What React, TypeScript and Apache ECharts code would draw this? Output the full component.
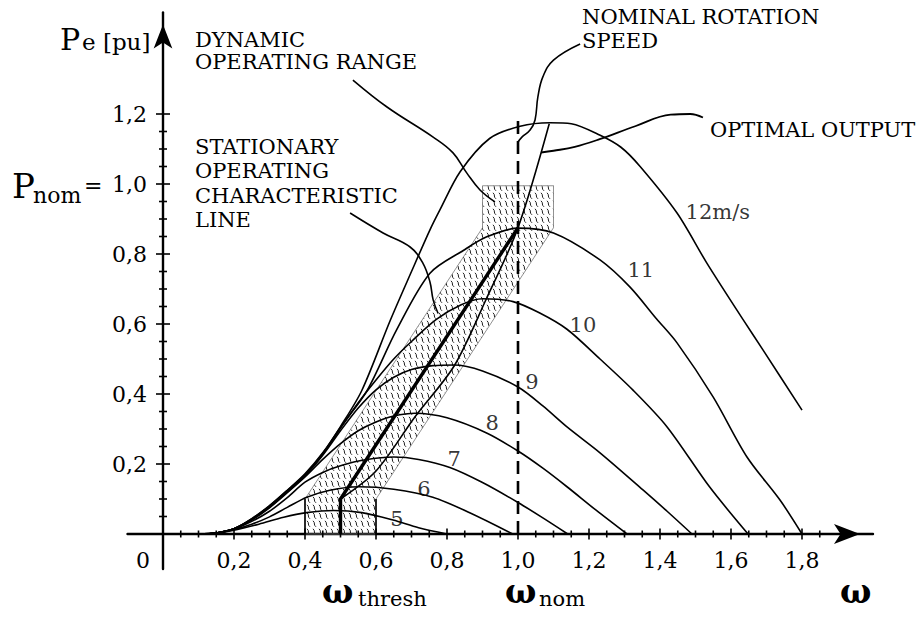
import React, { useEffect, useRef } from 'react';
import * as echarts from 'echarts';

const FONT = '"DejaVu Serif", "Liberation Serif", serif';

// axis tick labels
const xTickLabels = [0.2, 0.4, 0.6, 0.8, 1.0, 1.2, 1.4, 1.6, 1.8];
const yTickLabels = [0.2, 0.4, 0.6, 0.8, 1.0, 1.2];

// power curves P(omega) for each wind speed
const curve5 = [[0.1, 0], [0.15, 0.003], [0.2, 0.011], [0.27, 0.028], [0.34, 0.048], [0.405, 0.061], [0.48, 0.067], [0.56, 0.061], [0.648, 0.04], [0.72, 0.018], [0.8, 0]];
const curve6 = [[0.1, 0], [0.15, 0.003], [0.2, 0.013], [0.25, 0.028], [0.3, 0.049], [0.35, 0.076], [0.405, 0.105], [0.47, 0.125], [0.55, 0.135], [0.65, 0.128], [0.76, 0.105], [0.87, 0.058], [0.985, 0]];
const curve7 = [[0.1, 0], [0.15, 0.003], [0.2, 0.014], [0.25, 0.036], [0.3, 0.065], [0.35, 0.104], [0.4, 0.148], [0.45, 0.176], [0.5, 0.195], [0.57, 0.212], [0.65, 0.22], [0.72, 0.213], [0.808, 0.19], [0.9, 0.147], [1.0, 0.09], [1.07, 0.046], [1.14, 0]];
const curve8 = [[0.1, 0], [0.15, 0.003], [0.2, 0.015], [0.25, 0.04], [0.3, 0.075], [0.35, 0.118], [0.4, 0.163], [0.45, 0.213], [0.5, 0.258], [0.55, 0.295], [0.6, 0.32], [0.65, 0.337], [0.71, 0.345], [0.8, 0.332], [0.913, 0.288], [1.0, 0.237], [1.07, 0.188], [1.138, 0.135], [1.22, 0.068], [1.307, 0]];
const curve9 = [[0.1, 0], [0.15, 0.003], [0.2, 0.015], [0.25, 0.041], [0.3, 0.077], [0.35, 0.12], [0.4, 0.166], [0.45, 0.225], [0.5, 0.295], [0.55, 0.36], [0.6, 0.412], [0.65, 0.448], [0.7, 0.47], [0.76, 0.481], [0.82, 0.483], [0.9, 0.466], [1.0, 0.42], [1.07, 0.366], [1.138, 0.306], [1.231, 0.232], [1.352, 0.126], [1.42, 0.065], [1.49, 0]];
const curve10 = [[0.1, 0], [0.15, 0.003], [0.2, 0.015], [0.25, 0.042], [0.3, 0.079], [0.35, 0.122], [0.4, 0.168], [0.45, 0.228], [0.5, 0.302], [0.55, 0.375], [0.6, 0.44], [0.65, 0.5], [0.7, 0.55], [0.77, 0.613], [0.84, 0.655], [0.9, 0.672], [0.986, 0.664], [1.06, 0.632], [1.138, 0.585], [1.231, 0.5], [1.324, 0.411], [1.42, 0.306], [1.54, 0.134], [1.648, 0]];
const curve11 = [[0.1, 0], [0.15, 0.003], [0.2, 0.015], [0.25, 0.043], [0.3, 0.08], [0.35, 0.124], [0.4, 0.17], [0.45, 0.23], [0.5, 0.305], [0.575, 0.41], [0.658, 0.583], [0.752, 0.745], [0.846, 0.81], [0.912, 0.849], [1.0, 0.874], [1.1, 0.86], [1.231, 0.783], [1.315, 0.706], [1.39, 0.615], [1.448, 0.546], [1.55, 0.391], [1.645, 0.22], [1.738, 0.097], [1.8, 0]];
const curve12 = [[0.1, 0], [0.15, 0.003], [0.2, 0.015], [0.25, 0.044], [0.3, 0.081], [0.35, 0.125], [0.4, 0.172], [0.45, 0.232], [0.5, 0.307], [0.56, 0.41], [0.64, 0.61], [0.7, 0.75], [0.752, 0.869], [0.78, 0.926], [0.837, 1.035], [0.92, 1.13], [1.006, 1.165], [1.09, 1.175], [1.15, 1.172], [1.23, 1.14], [1.29, 1.105], [1.344, 1.05], [1.448, 0.917], [1.532, 0.774], [1.635, 0.611], [1.69, 0.526], [1.8, 0.354]];
const powerCurves = [curve5, curve6, curve7, curve8, curve9, curve10, curve11, curve12];

// curve labels (wind speed) and where they sit
const curveLabels = [
  { name: '12m/s', value: [1.563, 0.92] },
  { name: '11', value: [1.346, 0.754] },
  { name: '10', value: [1.183, 0.597] },
  { name: '9', value: [1.039, 0.434] },
  { name: '8', value: [0.927, 0.317] },
  { name: '7', value: [0.82, 0.214] },
  { name: '6', value: [0.735, 0.129] },
  { name: '5', value: [0.659, 0.043] },
];

// dynamic operating range (hatched region)
const dynamicRange = [[0.4, 0], [0.6, 0], [0.6, 0.1], [1.1, 0.875], [1.1, 0.995], [0.9, 0.995], [0.9, 0.875], [0.4, 0.1]];
const rangeEdgeLeft = [[0.4, 0], [0.4, 0.1]];
const rangeEdgeRight = [[0.6, 0], [0.6, 0.1]];

// stationary operating characteristic line
const characteristicLine = [[0.5, 0], [0.5, 0.1], [1.0, 0.875]];
// optimal output line (through the curve maxima)
const optimalLine = [[0.5, 0.1], [0.6, 0.18], [0.71, 0.335], [0.82, 0.48], [0.91, 0.67], [1.0, 0.875], [1.088, 1.172]];
// nominal rotation speed
const nominalSpeed = [[1.0, 0], [1.0, 1.2]];

// annotation leader lines
const nominalLeader = [[1.175, 1.4], [1.1, 1.354], [1.07, 1.306], [1.056, 1.249], [1.048, 1.183], [1.034, 1.154], [1.011, 1.134], [1.0, 1.12]];
const optimalLeader = [[1.521, 1.19], [1.485, 1.2], [1.43, 1.198], [1.33, 1.165], [1.23, 1.128], [1.16, 1.106], [1.1, 1.095], [1.065, 1.09]];
const dynamicLeader = [[0.535, 1.297], [0.631, 1.22], [0.761, 1.134], [0.817, 1.089], [0.856, 1.031], [0.893, 0.983], [0.935, 0.949]];
const stationaryLeader = [[0.527, 0.917], [0.62, 0.86], [0.696, 0.82], [0.732, 0.774], [0.752, 0.72], [0.761, 0.669], [0.775, 0.63]];

function fmt(v: number) {
  return v.toFixed(1).replace('.', ',');
}

function makeHatch() {
  const c = document.createElement('canvas');
  c.width = 6;
  c.height = 8;
  const ctx = c.getContext('2d')!;
  ctx.strokeStyle = '#222';
  ctx.lineWidth = 1.0;
  ctx.beginPath();
  ctx.moveTo(1.0, 0.8);
  ctx.quadraticCurveTo(2.8, 2.6, 2.4, 4.0);
  ctx.quadraticCurveTo(2.2, 5.4, 4.0, 6.8);
  ctx.stroke();
  return c;
}

export default function App() {
  const ref = useRef<HTMLDivElement>(null);

  useEffect(() => {
    if (!ref.current) return;
    const chart = echarts.init(ref.current, null, { renderer: 'svg' });
    const hatch = makeHatch();

    const xMinor: number[] = [];
    for (let i = 1; i <= 37; i++) if (i % 4 !== 0) xMinor.push(i * 0.05);
    const yMinor: number[] = [];
    for (let i = 1; i <= 23; i++) if (i % 4 !== 0) yMinor.push(i * 0.05);

    const tickSeries = (axis: 'x' | 'y', values: number[], half: number) => ({
      type: 'custom',
      coordinateSystem: 'cartesian2d',
      silent: true,
      z: 6,
      data: values.map((v) => (axis === 'x' ? [v, 0] : [0, v])),
      renderItem: (_p: any, api: any) => {
        const p = api.coord([api.value(0), api.value(1)]);
        return {
          type: 'line',
          shape: axis === 'x'
            ? { x1: p[0], y1: p[1] - half, x2: p[0], y2: p[1] + half }
            : { x1: p[0] - half, y1: p[1], x2: p[0] + half, y2: p[1] },
          style: { stroke: '#000', lineWidth: 1.6 },
        };
      },
    });

    const plainLine = (data: number[][], width: number, smooth: number | boolean, z = 4, type: any = 'solid') => ({
      type: 'line',
      data,
      showSymbol: false,
      symbol: 'none',
      smooth,
      silent: true,
      z,
      lineStyle: { color: '#000', width, type },
    });

    const text = (t: string, x: number, y: number, size: number, extra: any = {}) => ({
      type: 'text',
      x,
      y,
      silent: true,
      style: {
        text: t,
        fontFamily: FONT,
        fontSize: size,
        fill: '#000',
        align: 'left',
        verticalAlign: 'middle',
        ...extra,
      },
    });

    const option: any = {
      animation: false,
      backgroundColor: '#fff',
      grid: { left: 127.5, right: 49, top: 12.5, bottom: 50, outerBoundsMode: 'none' },
      xAxis: {
        type: 'value',
        min: -0.1,
        max: 2.0,
        splitLine: { show: false },
        axisLine: {
          onZero: true,
          symbol: ['none', 'arrow'],
          symbolSize: [15, 26],
          symbolOffset: [0, -13],
          lineStyle: { color: '#000', width: 2.4 },
        },
        axisTick: { show: false },
        axisLabel: {
          customValues: xTickLabels,
          formatter: (v: number) => fmt(v),
          fontFamily: FONT,
          fontSize: 22,
          color: '#000',
          margin: -20,
        },
      },
      yAxis: {
        type: 'value',
        min: -0.1,
        max: 1.49,
        splitLine: { show: false },
        axisLine: {
          onZero: true,
          symbol: ['none', 'arrow'],
          symbolSize: [14, 24],
          symbolOffset: [0, -12],
          lineStyle: { color: '#000', width: 2.4 },
        },
        axisTick: { show: false },
        axisLabel: {
          customValues: yTickLabels,
          formatter: (v: number) => fmt(v),
          fontFamily: FONT,
          fontSize: 22,
          color: '#000',
          margin: -19.5,
        },
      },
      series: [
        {
          type: 'custom',
          coordinateSystem: 'cartesian2d',
          silent: true,
          z: 1,
          data: [[0.5, 0.5]],
          renderItem: (_p: any, api: any) => ({
            type: 'polygon',
            shape: { points: dynamicRange.map((pt) => api.coord(pt)) },
            style: { fill: { image: hatch, repeat: 'repeat' }, stroke: '#777', lineWidth: 0.8 },
          }),
        },
        plainLine(rangeEdgeLeft, 1.6, false, 3),
        plainLine(rangeEdgeRight, 1.6, false, 3),
        ...powerCurves.map((c) => plainLine(c, 1.6, 0.3)),
        plainLine(characteristicLine, 3.4, false, 5),
        plainLine(optimalLine, 1.6, 0.3, 5),
        plainLine(nominalSpeed, 2.6, false, 5, [13, 7]),
        plainLine(nominalLeader, 1.6, 0.4, 5),
        plainLine(optimalLeader, 1.8, 0.4, 5),
        plainLine(dynamicLeader, 1.6, 0.4, 5),
        plainLine(stationaryLeader, 1.6, 0.4, 5),
        tickSeries('x', xTickLabels, 5.5),
        tickSeries('x', xMinor, 3.5),
        tickSeries('y', yTickLabels, 7),
        tickSeries('y', yMinor, 4),
        {
          type: 'scatter',
          silent: true,
          symbolSize: 1,
          itemStyle: { color: 'rgba(0,0,0,0)' },
          z: 7,
          data: curveLabels,
          label: {
            show: true,
            position: 'inside',
            formatter: '{b}',
            fontFamily: FONT,
            fontSize: 21,
            color: '#000',
          },
        },
      ],
      graphic: [
        text('P', 60, 39, 30),
        text('e [pu]', 82, 42, 23),
        text('P', 12, 186, 34),
        text('nom', 33, 195, 22),
        text('=', 84, 185, 22),
        text('0', 136, 560, 22),
        text('DYNAMIC\nOPERATING RANGE', 195, 29, 21, { verticalAlign: 'top', lineHeight: 22 }),
        text('STATIONARY\nOPERATING\nCHARACTERISTIC\nLINE', 195, 135, 21, { verticalAlign: 'top', lineHeight: 24.3 }),
        text('NOMINAL ROTATION\nSPEED', 582, 5, 21, { verticalAlign: 'top', lineHeight: 24 }),
        text('OPTIMAL OUTPUT', 710, 130, 21),
        text('ω', 322, 591, 33, { fontWeight: 'bold', lineHeight: 22 }),
        text('thresh', 358, 599, 21),
        text('ω', 505, 591, 33, { fontWeight: 'bold', lineHeight: 22 }),
        text('nom', 539, 599, 21),
        text('ω', 840, 591, 33, { fontWeight: 'bold', lineHeight: 22 }),
      ],
    };

    chart.setOption(option);
    return () => chart.dispose();
  }, []);

  return <div ref={ref} style={{ width: 922, height: 619, position: 'absolute', left: 0, top: 0 }} />;
}
